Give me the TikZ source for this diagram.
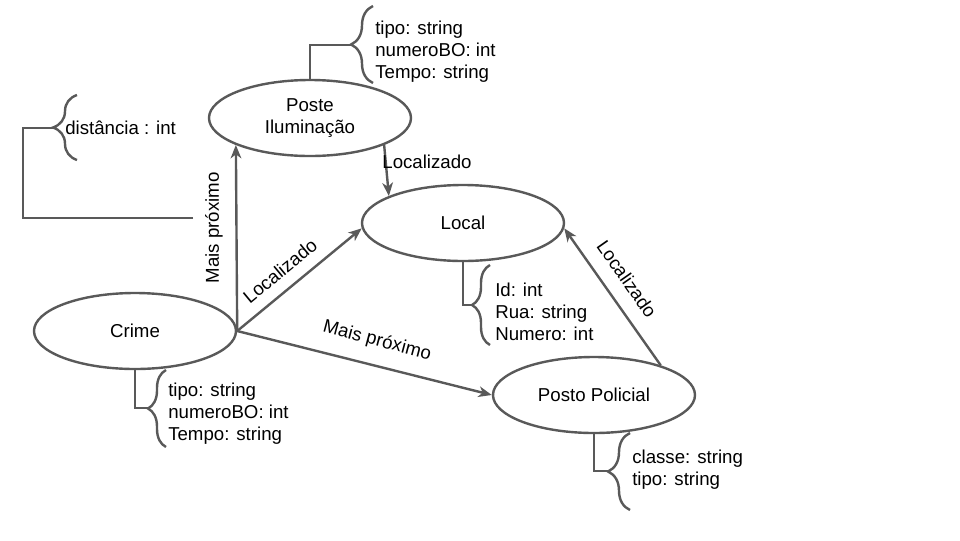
\documentclass[tikz,border=0pt]{standalone}
\usepackage{fontspec}
\setmainfont{Liberation Sans}
\usetikzlibrary{arrows.meta,decorations.pathreplacing,shapes.geometric}
\definecolor{ln}{HTML}{595959}
\begin{document}
\begin{tikzpicture}[x=0.75pt,y=-0.75pt,
  txt/.style={font=\fontsize{14}{16.5}\selectfont,text=black},
  ent/.style={txt,ellipse,draw=ln,line width=1.8pt,minimum width=151.5pt,minimum height=57pt,inner sep=0pt,align=center},
  conn/.style={draw=ln,line width=1.8pt},
  arr/.style={conn,-{Stealth[length=10pt,width=8pt,inset=3pt]}},
  lbl/.style={txt,inner sep=0pt},
  attr/.style={txt,align=left,anchor=west,inner sep=0pt},
  brc/.style={conn,decorate,decoration={brace,amplitude=#1}},
]
\useasboundingbox (0,0) rectangle (960,540);

% entities
\node[ent] (poste) at (310,118) {Poste\\Iluminação};
\node[ent] (local) at (463,223) {Local};
\node[ent] (crime) at (135,331) {Crime};
\node[ent] (posto) at (594,395) {Posto Policial};

% relations
\draw[arr] (crime.east) -- (poste.200);
\draw[arr] (crime.east) -- (local.183);
\draw[arr] (crime.east) -- (posto.west);
\draw[arr] (poste.-20) -- (local.160);
\draw[arr] (posto.24) -- (local.-3);

\node[lbl,rotate=90] (l1) at (214,228) {Mais próximo};
\node[lbl,rotate=39.5] (l2) at (280,271) {Localizado};
\node[lbl,rotate=-15] (l3) at (377,341) {Mais próximo};
\node[lbl] (l4) at (427,162) {Localizado};
\node[lbl,rotate=-55] (l5) at (627,279) {Localizado};

% attributes of Poste
\coordinate (ptip) at (351,45);
\draw[conn] (poste.north) |- (ptip);
\draw[brc=16.5pt] (373,83) -- (373,6);
\node[attr] (pattr) at (375,52) {tipo: string\\numeroBO: int\\Tempo: string};

% distance attribute
\coordinate (dend) at (193,218);
\coordinate (dtip) at (53,128);
\draw[conn] (dend) -- (23,218) |- (dtip);
\draw[brc=18pt] (77,160) -- (77,95);
\node[attr] (dattr) at (65,128) {distância : int};

% attributes of Local
\coordinate (ltip) at (472,305);
\draw[conn] (local.south) |- (ltip);
\draw[brc=13.5pt] (490,345) -- (490,265);
\node[attr] (lattr) at (495,312) {Id: int\\Rua: string\\Numero: int};

% attributes of Crime
\coordinate (ctip) at (148,408);
\draw[conn] (crime.south) |- (ctip);
\draw[brc=13.5pt] (166,447) -- (166,370);
\node[attr] (cattr) at (168,414) {tipo: string\\numeroBO: int\\Tempo: string};

% attributes of Posto
\coordinate (otip) at (608,471);
\draw[conn] (posto.south) |- (otip);
\draw[brc=16.5pt] (630,510) -- (630,433);
\node[attr] (oattr) at (632,470) {classe: string\\tipo: string};
\end{tikzpicture}
\end{document}
